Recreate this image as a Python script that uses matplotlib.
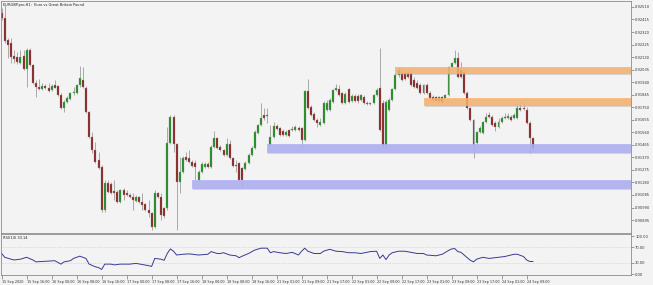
import numpy as np
import matplotlib
matplotlib.use('Agg')
import matplotlib.pyplot as plt
from matplotlib.patches import Rectangle
import matplotlib.patheffects as pe

# ---- data (EURGBP H1) ----
opens = [0.92465, 0.92427, 0.92260, 0.92237, 0.92139, 0.92131, 0.92085, 0.92139, 0.92040, 0.92184,
         0.92070, 0.91934, 0.91904, 0.91888, 0.91911, 0.91896, 0.91881, 0.91919, 0.91911, 0.91843,
         0.91744, 0.91790, 0.91813, 0.91858, 0.91858, 0.91919, 0.91957, 0.91896, 0.91714, 0.91525,
         0.91426, 0.91350, 0.91297, 0.90971, 0.91176, 0.91168, 0.91115, 0.91108, 0.91032, 0.91123,
         0.91100, 0.91085, 0.91070, 0.91039, 0.91070, 0.91032, 0.91017, 0.90971, 0.90948, 0.90842,
         0.91100, 0.91070, 0.90986, 0.90986, 0.91479, 0.91676, 0.91471, 0.91183, 0.91259, 0.91373,
         0.91365, 0.91335, 0.91327, 0.91199, 0.91259, 0.91297, 0.91320, 0.91297, 0.91449, 0.91517,
         0.91449, 0.91426, 0.91388, 0.91471, 0.91365, 0.91312, 0.91327, 0.91290, 0.91282, 0.91327,
         0.91388, 0.91441, 0.91555, 0.91615, 0.91691, 0.91691, 0.91464, 0.91525, 0.91608, 0.91593,
         0.91570, 0.91540, 0.91578, 0.91585, 0.91578, 0.91593, 0.91593, 0.91502, 0.91873, 0.91752,
         0.91699, 0.91653, 0.91615, 0.91631, 0.91729, 0.91729, 0.91790, 0.91881, 0.91888, 0.91858,
         0.91782, 0.91888, 0.91797, 0.91835, 0.91835, 0.91805, 0.91828, 0.91782, 0.91775, 0.91782,
         0.91843, 0.91896, 0.91782, 0.91464, 0.91729, 0.91805, 0.91888, 0.91994, 0.92010, 0.92010,
         0.92010, 0.92010, 0.91957, 0.91934, 0.91919, 0.91858, 0.91919, 0.91858, 0.91828, 0.91828,
         0.91797, 0.91828, 0.91820, 0.91843, 0.92055, 0.92085, 0.92123, 0.92032, 0.92017, 0.91858,
         0.91744, 0.91653, 0.91479, 0.91562, 0.91555, 0.91638, 0.91691, 0.91676, 0.91631, 0.91600,
         0.91638, 0.91676, 0.91669, 0.91676, 0.91669, 0.91669, 0.91744, 0.91744, 0.91729, 0.91631,
         0.91517]
highs = [0.92502, 0.92525, 0.92275, 0.92275, 0.92184, 0.92169, 0.92184, 0.92184, 0.92199, 0.92199,
         0.92078, 0.91957, 0.91964, 0.91934, 0.91926, 0.91934, 0.91926, 0.91957, 0.91919, 0.91858,
         0.91805, 0.91835, 0.91866, 0.91904, 0.91926, 0.92063, 0.92055, 0.91911, 0.91722, 0.91562,
         0.91487, 0.91411, 0.91312, 0.91199, 0.91199, 0.91183, 0.91199, 0.91123, 0.91130, 0.91138,
         0.91123, 0.91100, 0.91100, 0.91085, 0.91077, 0.91100, 0.91024, 0.91047, 0.90956, 0.91123,
         0.91108, 0.91100, 0.90994, 0.91600, 0.91691, 0.91691, 0.91479, 0.91373, 0.91381, 0.91411,
         0.91426, 0.91350, 0.91350, 0.91274, 0.91335, 0.91335, 0.91335, 0.91464, 0.91570, 0.91525,
         0.91464, 0.91434, 0.91517, 0.91502, 0.91373, 0.91350, 0.91335, 0.91297, 0.91343, 0.91403,
         0.91456, 0.91578, 0.91623, 0.91782, 0.91744, 0.91744, 0.91615, 0.91638, 0.91623, 0.91600,
         0.91585, 0.91578, 0.91585, 0.91608, 0.91615, 0.91608, 0.91600, 0.91881, 0.91964, 0.91767,
         0.91714, 0.91669, 0.91669, 0.91797, 0.91805, 0.91820, 0.91888, 0.91926, 0.91919, 0.91866,
         0.91866, 0.91896, 0.91850, 0.91850, 0.91850, 0.91850, 0.91843, 0.91797, 0.91790, 0.91850,
         0.91896, 0.92199, 0.91805, 0.91805, 0.91820, 0.91896, 0.92010, 0.92055, 0.92048, 0.92032,
         0.92032, 0.92017, 0.91979, 0.91957, 0.91934, 0.91926, 0.91934, 0.91873, 0.91843, 0.91835,
         0.91835, 0.91835, 0.91850, 0.92063, 0.92093, 0.92184, 0.92169, 0.92093, 0.92032, 0.91873,
         0.91752, 0.91661, 0.91570, 0.91608, 0.91646, 0.91706, 0.91714, 0.91691, 0.91646, 0.91669,
         0.91684, 0.91706, 0.91706, 0.91691, 0.91706, 0.91775, 0.91790, 0.91775, 0.91752, 0.91646,
         0.91525]
lows = [0.92411, 0.92237, 0.92123, 0.92085, 0.92085, 0.92078, 0.92078, 0.92032, 0.91904, 0.92063,
        0.91926, 0.91828, 0.91881, 0.91881, 0.91888, 0.91866, 0.91873, 0.91896, 0.91835, 0.91737,
        0.91714, 0.91782, 0.91805, 0.91843, 0.91850, 0.91904, 0.91896, 0.91706, 0.91517, 0.91403,
        0.91327, 0.91282, 0.90956, 0.90956, 0.91100, 0.91092, 0.91047, 0.91024, 0.91024, 0.91047,
        0.91077, 0.91062, 0.90971, 0.91032, 0.91024, 0.90971, 0.90964, 0.90918, 0.90820, 0.90835,
        0.91062, 0.90895, 0.90911, 0.90971, 0.91471, 0.91411, 0.90820, 0.91100, 0.91252, 0.91343,
        0.91327, 0.91297, 0.91199, 0.91191, 0.91252, 0.91290, 0.91290, 0.91290, 0.91441, 0.91434,
        0.91418, 0.91381, 0.91381, 0.91358, 0.91297, 0.91259, 0.91191, 0.91146, 0.91274, 0.91320,
        0.91381, 0.91434, 0.91547, 0.91608, 0.91653, 0.91631, 0.91456, 0.91517, 0.91578, 0.91532,
        0.91532, 0.91532, 0.91525, 0.91570, 0.91570, 0.91570, 0.91464, 0.91494, 0.91737, 0.91684,
        0.91646, 0.91600, 0.91608, 0.91623, 0.91722, 0.91722, 0.91782, 0.91873, 0.91835, 0.91775,
        0.91775, 0.91782, 0.91790, 0.91790, 0.91782, 0.91797, 0.91775, 0.91767, 0.91767, 0.91775,
        0.91835, 0.91570, 0.91449, 0.91441, 0.91722, 0.91797, 0.91881, 0.91979, 0.91949, 0.91957,
        0.91972, 0.91911, 0.91896, 0.91888, 0.91850, 0.91850, 0.91850, 0.91813, 0.91797, 0.91790,
        0.91790, 0.91782, 0.91813, 0.91835, 0.92048, 0.92078, 0.91972, 0.91972, 0.91850, 0.91737,
        0.91646, 0.91365, 0.91471, 0.91555, 0.91547, 0.91631, 0.91669, 0.91608, 0.91570, 0.91593,
        0.91631, 0.91661, 0.91661, 0.91646, 0.91661, 0.91661, 0.91722, 0.91729, 0.91623, 0.91403,
        0.91411]
closes = [0.92427, 0.92252, 0.92222, 0.92131, 0.92116, 0.92093, 0.92131, 0.92040, 0.92184, 0.92070,
          0.91934, 0.91904, 0.91888, 0.91911, 0.91896, 0.91873, 0.91911, 0.91896, 0.91843, 0.91744,
          0.91790, 0.91820, 0.91858, 0.91866, 0.91919, 0.91972, 0.91904, 0.91714, 0.91525, 0.91426,
          0.91335, 0.91290, 0.90971, 0.91176, 0.91108, 0.91100, 0.91100, 0.91032, 0.91123, 0.91085,
          0.91085, 0.91070, 0.91047, 0.91070, 0.91032, 0.91009, 0.90971, 0.90948, 0.90842, 0.91100,
          0.91070, 0.90933, 0.90926, 0.91479, 0.91676, 0.91471, 0.91183, 0.91259, 0.91365, 0.91350,
          0.91335, 0.91305, 0.91297, 0.91259, 0.91320, 0.91320, 0.91297, 0.91449, 0.91517, 0.91441,
          0.91426, 0.91388, 0.91471, 0.91365, 0.91305, 0.91305, 0.91199, 0.91199, 0.91327, 0.91388,
          0.91441, 0.91562, 0.91615, 0.91669, 0.91669, 0.91684, 0.91525, 0.91608, 0.91585, 0.91540,
          0.91540, 0.91562, 0.91532, 0.91578, 0.91600, 0.91578, 0.91502, 0.91873, 0.91744, 0.91691,
          0.91653, 0.91631, 0.91638, 0.91782, 0.91782, 0.91805, 0.91881, 0.91896, 0.91843, 0.91782,
          0.91850, 0.91790, 0.91835, 0.91797, 0.91797, 0.91843, 0.91782, 0.91775, 0.91782, 0.91843,
          0.91881, 0.91578, 0.91464, 0.91790, 0.91805, 0.91888, 0.91994, 0.92032, 0.91957, 0.91964,
          0.91979, 0.91919, 0.91904, 0.91896, 0.91858, 0.91919, 0.91858, 0.91820, 0.91805, 0.91797,
          0.91828, 0.91790, 0.91843, 0.92055, 0.92085, 0.92123, 0.91979, 0.91979, 0.91858, 0.91744,
          0.91653, 0.91464, 0.91562, 0.91593, 0.91638, 0.91676, 0.91676, 0.91615, 0.91600, 0.91638,
          0.91669, 0.91669, 0.91684, 0.91653, 0.91691, 0.91744, 0.91729, 0.91737, 0.91631, 0.91517,
          0.91441]

rsi_idx = [0, 1, 3, 4, 6, 8, 10, 11, 13, 15, 17, 19, 20, 22, 23, 25, 27, 28, 30, 31,
           32, 33, 35, 36, 38, 41, 43, 45, 47, 48, 49, 51, 52, 53, 54, 55, 56, 58, 60, 63,
           66, 67, 69, 70, 71, 73, 75, 76, 77, 79, 81, 83, 85, 86, 87, 89, 91, 93, 95, 96,
           97, 98, 100, 102, 103, 105, 107, 109, 111, 113, 115, 118, 120, 121, 122, 123, 124, 125, 127, 129,
           131, 133, 135, 136, 139, 141, 143, 144, 145, 146, 147, 148, 149, 150, 151, 152, 154, 156, 159, 161,
           164, 165, 167, 168, 169, 170]
rsi_val = [54, 44, 39, 37, 39, 44, 37, 32, 33, 34, 35, 26, 32, 35, 41, 47, 41, 26, 19, 17,
           12, 26, 26, 24, 26, 26, 28, 25, 22, 20, 41, 39, 36, 54, 66, 60, 50, 52, 53, 50,
           52, 59, 54, 54, 56, 50, 48, 43, 47, 54, 63, 68, 68, 56, 59, 56, 54, 57, 50, 60,
           68, 60, 54, 54, 60, 65, 60, 59, 56, 56, 54, 59, 60, 41, 50, 38, 50, 56, 60, 60,
           57, 54, 54, 50, 48, 52, 62, 66, 67, 59, 57, 50, 43, 36, 32, 39, 44, 41, 44, 46,
           52, 52, 46, 37, 33, 33]

# support / resistance zones: start bar, low, high
zone_start = [126, 135, 85, 61]
zone_low = [0.92002, 0.91760, 0.91403, 0.91130]
zone_high = [0.92055, 0.91820, 0.91471, 0.91199]
zone_color = ['#f9b26d', '#f9b26d', '#aeaef5', '#aeaef5']

price_ticks = [0.92510, 0.92415, 0.92320, 0.92225, 0.92130, 0.92035, 0.91940, 0.91845, 0.91750,
               0.91655, 0.91560, 0.91465, 0.91370, 0.91275, 0.91180, 0.91085, 0.90990, 0.90895]
time_ticks = list(range(0, 169, 8))
time_labels = ['15 Sep 2020', '15 Sep 16:00', '16 Sep 00:00', '16 Sep 08:00', '16 Sep 16:00',
               '17 Sep 00:00', '17 Sep 08:00', '17 Sep 16:00', '18 Sep 00:00', '18 Sep 08:00',
               '18 Sep 16:00', '21 Sep 01:00', '21 Sep 09:00', '21 Sep 17:00', '22 Sep 01:00',
               '22 Sep 09:00', '22 Sep 17:00', '23 Sep 01:00', '23 Sep 09:00', '23 Sep 17:00',
               '24 Sep 01:00', '24 Sep 09:00']

BG = '#f3f3f3'
SPINE = '#8c8c8c'
FS = 2.6
W, H = 653, 285

fig = plt.figure(figsize=(W / 100, H / 100), dpi=100, facecolor=BG)

def px_axes(x0, y0, x1, y1):
    return fig.add_axes([x0 / W, 1 - y1 / H, (x1 - x0) / W, (y1 - y0) / H], facecolor=BG)

ax = px_axes(1, 1, 631, 233)
ax2 = px_axes(1, 234, 631, 275)

o = np.array(opens); h = np.array(highs); l = np.array(lows); c = np.array(closes)
idx = np.arange(len(c))
up = c >= o
cols = np.where(up, '#168c16', '#8a1a1a')
bottom = np.minimum(o, c)
height = np.maximum(np.abs(c - o), 0.00003)

ax.vlines(idx, l, h, color='#9c9c9c', lw=0.6, zorder=1)
ax.bar(idx, height, bottom=bottom, width=0.64, color=cols, edgecolor='#9c9c9c',
       linewidth=0.25, zorder=2)

xmax = 201.4
for s, lo, hi, col in zip(zone_start, zone_low, zone_high, zone_color):
    r = Rectangle((s, lo), xmax + 5 - s, hi - lo, facecolor=col, edgecolor='none',
                  alpha=0.82, zorder=3)
    r.set_path_effects([pe.SimplePatchShadow(offset=(0.8, -0.8), shadow_rgbFace='#999999', alpha=0.35),
                        pe.Normal()])
    ax.add_patch(r)

ax.set_xlim(-0.2, xmax)
ax.set_ylim(0.90797, 0.92555)
ax.set_xticks([])
ax.yaxis.tick_right()
ax.set_yticks(price_ticks)
ax.set_yticklabels(['%.5f' % p for p in price_ticks])
ax.tick_params(axis='y', direction='out', length=2, width=0.4, pad=1,
               labelsize=FS, colors='#555555', labelcolor='#333333')
ax.text(0.003, 0.992, 'EURGBP.pro,H1:  Euro vs Great Britain Pound', transform=ax.transAxes,
        fontsize=FS, va='top', ha='left', color='#222222')

# RSI panel
for lvl in [30, 70]:
    ax2.axhline(lvl, color='#c4c4c4', lw=0.5, ls=(0, (1, 1.5)), zorder=1)
ax2.plot(rsi_idx, rsi_val, color='#3a3a96', lw=0.7, zorder=2)
ax2.set_xlim(-0.2, xmax)
ax2.set_ylim(-2.6, 105.3)
ax2.yaxis.tick_right()
ax2.set_yticks([0, 30, 70, 100])
ax2.set_yticklabels(['0.00', '30.00', '70.00', '100.00'])
ax2.tick_params(axis='y', direction='out', length=2, width=0.4, pad=1,
                labelsize=FS, colors='#555555', labelcolor='#333333')
ax2.set_xticks(time_ticks)
ax2.set_xticklabels(time_labels, ha='left')
ax2.tick_params(axis='x', direction='out', length=3, width=0.4, pad=0.8,
                labelsize=2.4, colors='#555555', labelcolor='#333333')
ax2.text(0.003, 0.96, 'RSI(14) 33.14', transform=ax2.transAxes,
         fontsize=FS, va='top', ha='left', color='#222222')

for a in (ax, ax2):
    for sp in a.spines.values():
        sp.set_color(SPINE)
        sp.set_linewidth(0.6)

fig.savefig('out.png', dpi=100, facecolor=BG)
